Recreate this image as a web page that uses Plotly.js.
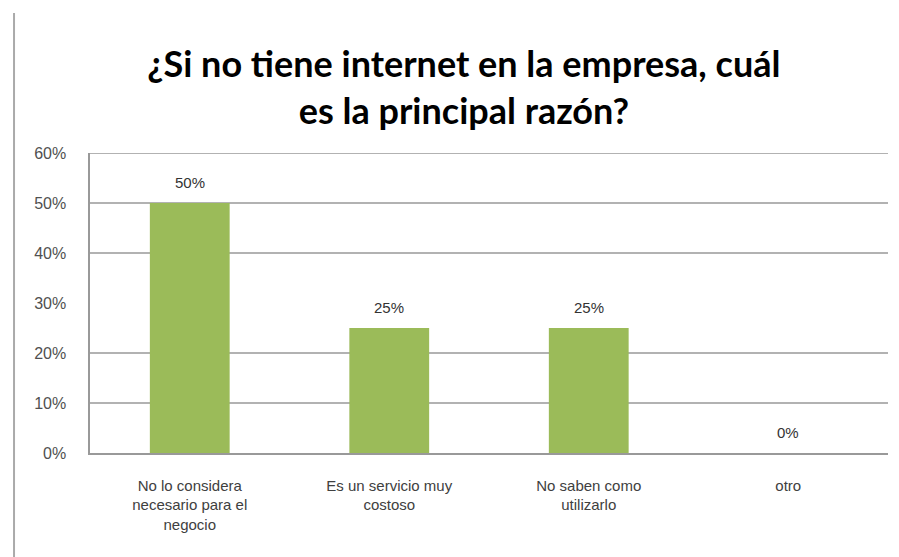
<!DOCTYPE html>
<html>
<head>
<meta charset="utf-8">
<script src="https://cdn.plot.ly/plotly-3.0.1.min.js"></script>
<style>html,body{margin:0;padding:0;background:#fff;}#chart{width:899px;height:557px;}</style>
</head>
<body>
<div id="chart"></div>
<script>
var categories = ["No lo considera<br>necesario para el<br>negocio", "Es un servicio muy<br>costoso", "No saben como<br>utilizarlo", "otro"];
var values = [0.50, 0.25, 0.25, 0.00];
var valueLabels = ["50%", "25%", "25%", "0%"];
var yTickVals = [0, 0.1, 0.2, 0.3, 0.4, 0.5, 0.6];
var yTickText = ["0%", "10%", "20%", "30%", "40%", "50%", "60%"];
var gridVals = [0.1, 0.2, 0.4, 0.5, 0.6];

var trace = {
  type: 'bar',
  x: categories,
  y: values,
  marker: {color: '#9BBB59'},
  width: 0.4,
  hoverinfo: 'none'
};

var annotations = categories.map(function(c, i){
  return {x: c, y: values[i], xref: 'x', yref: 'y', text: valueLabels[i], showarrow: false,
    yanchor: 'middle', yshift: 21, font: {family: 'Liberation Sans, Arial, sans-serif', size: 15, color: '#333'}};
});

var shapes = gridVals.map(function(v){
  return {type: 'line', xref: 'paper', yref: 'y', x0: 0, x1: 1, y0: v, y1: v, line: {color: '#999', width: 1.6}, layer: 'below'};
});
shapes.push({type: 'line', xref: 'paper', yref: 'paper', x0: -0.0952, x1: -0.0952, y0: 1.467, y1: -0.36, line: {color: '#aaa', width: 2}});

var layout = {
  width: 899, height: 557,
  margin: {l: 90, r: 11, t: 153, b: 104},
  paper_bgcolor: '#fff', plot_bgcolor: '#fff',
  showlegend: false,
  title: {text: '¿Si no tiene internet en la empresa, cuál<br>es la principal razón?', x: 0.516, xanchor: 'center', y: 0.861, yanchor: 'middle',
    font: {family: 'Lato, sans-serif', size: 36, color: '#000', weight: 'bold'}},
  xaxis: {showgrid: false, showline: true, linecolor: '#999', linewidth: 1.6, ticks: '', ticklabelstandoff: 18,
    tickfont: {family: 'Liberation Sans, Arial, sans-serif', size: 15, color: '#404040'}, fixedrange: true},
  yaxis: {range: [0, 0.6], tickvals: yTickVals, ticktext: yTickText, showgrid: false, zeroline: false,
    showline: true, linecolor: '#999', linewidth: 1.6, ticks: '', ticklabelstandoff: 19,
    tickfont: {family: 'Liberation Sans, Arial, sans-serif', size: 16, color: '#505050'}, fixedrange: true},
  annotations: annotations,
  shapes: shapes,
  bargap: 0.6
};

Plotly.newPlot('chart', [trace], layout, {displayModeBar: false, staticPlot: true});
</script>
</body>
</html>
